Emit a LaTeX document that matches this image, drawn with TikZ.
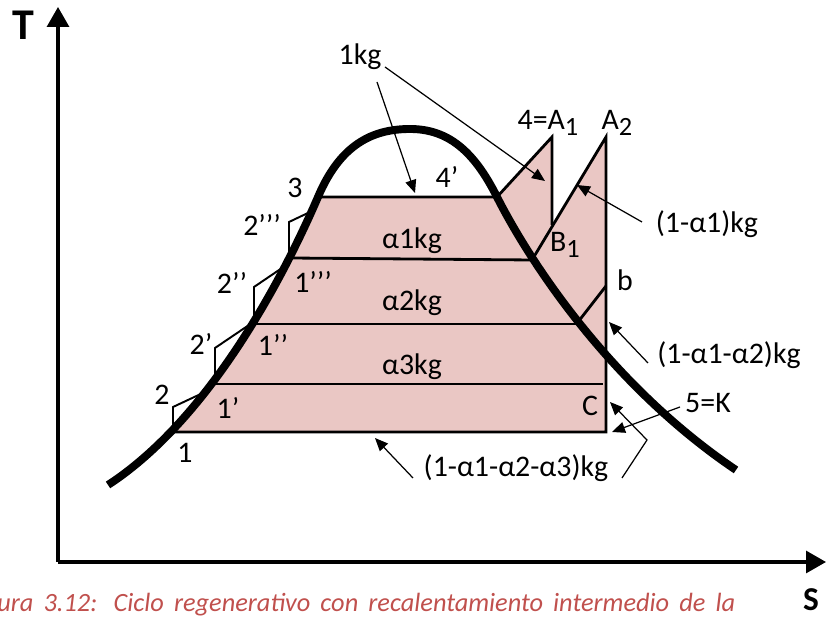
\documentclass[tikz,border=0pt]{standalone}
\usepackage{fontspec}
\setmainfont{Carlito}
\usetikzlibrary{arrows.meta}

\definecolor{cyclefill}{RGB}{234,199,196}
\definecolor{capred}{RGB}{192,80,77}
\newcommand{\lowidx}[1]{\raisebox{-0.45ex}{\fontsize{15}{15}\selectfont #1}}

\begin{document}
\begin{tikzpicture}[
  x=0.02cm, y=-0.02cm,
  lbl/.style={font=\fontsize{17}{20}\selectfont, inner sep=0pt},
  ax/.style={line width=1.8pt, -{Triangle[length=4mm,width=4.4mm]}},
  dome/.style={line width=4.5pt},
  cyc/.style={line width=1.6pt, line join=miter},
  stepline/.style={line width=1.1pt},
  arr/.style={line width=0.7pt, -{Triangle[length=2.6mm,width=2.2mm]}},
]
\useasboundingbox (0,0) rectangle (826,617);

% axes
\coordinate (o) at (58,562);
\coordinate (ttip) at (58,7);
\coordinate (stip) at (826,562);
\draw[ax] (o) -- (ttip);
\draw[ax] (o) -- (stip);
\node[font=\fontsize{25}{25}\selectfont\bfseries, inner sep=0pt] (tlab) at (23,25) {T};
\node[font=\fontsize{19}{19}\selectfont\bfseries, inner sep=0pt] (slab) at (811,600) {S};

% dome ends
\coordinate (dl) at (108,485);
\coordinate (p3) at (318,197);
\coordinate (pk) at (410,129);
\coordinate (p4s) at (497,197);
\coordinate (dr) at (736,470);

% cycle area
\begin{scope}
  \clip (0,0) rectangle (826,432);
  \fill[cyclefill] (dl) .. controls (200,425) and (273,301) .. (p3)
    -- (p4s) -- (552,137) -- (552,225) -- (606,137) -- (606,490) -- cycle;
\end{scope}

% cycle lines
\coordinate (p1) at (172,432);
\coordinate (a1) at (552,137);
\coordinate (a1b) at (552,225);
\coordinate (b1) at (532,260);
\coordinate (a2) at (606,137);
\coordinate (k) at (606,432);
\draw[cyc] (p3) -- (p4s) -- (a1) -- (a1b);
\draw[cyc] (b1) -- (a2) -- (k) -- (p1);
\draw[cyc] (290,258) -- (b1);
\draw[cyc] (253,324) -- (579,324);
\draw[cyc] (578,322) -- (606,286);
\draw[cyc] (213,384) -- (603,384);

% pump steps
\draw[stepline] (173,431) -- (173,407) -- (205,392);
\draw[stepline] (215,382) -- (215,348) -- (249,325);
\draw[stepline] (254,322) -- (254,287) -- (282,268);
\draw[stepline] (289,257) -- (289,222) -- (310,212);

% saturation dome
\draw[dome] (dl) .. controls (200,425) and (273,301) .. (p3)
  .. controls (340,145) and (372,129) .. (pk)
  .. controls (448,129) and (474,151) .. (p4s)
  .. controls (530,262) and (610,385) .. (dr);

% point labels
\node[lbl] (l1) at (185,453) {1};
\node[lbl] (l2) at (162,395) {2};
\node[lbl] (l1a) at (228,408) {1’};
\node[lbl] (l2a) at (201,344) {2’};
\node[lbl] (l1b) at (273,345) {1’’};
\node[lbl] (l2b) at (232,283) {2’’};
\node[lbl] (l1c) at (313,282) {1’’’};
\node[lbl] (l2c) at (262,225) {2’’’};
\node[lbl] (l3) at (295,188) {3};
\node[lbl] (l4a) at (447,177) {4’};
\node[lbl] (la1) at (548,123) {4=A\lowidx{1}};
\node[lbl] (la2) at (617,123) {A\lowidx{2}};
\node[lbl] (lb1) at (565,245) {B\lowidx{1}};
\node[lbl] (lb) at (625,280) {b};
\node[lbl] (lc) at (590,406) {C};
\node[lbl] (lk) at (708,403) {5=K};

% mass labels
\node[lbl] (m1) at (412,241) {α1kg};
\node[lbl] (m2) at (412,303) {α2kg};
\node[lbl] (m3) at (412,367) {α3kg};
\node[lbl] (kg) at (360,57) {1kg};
\node[lbl] (r1) at (707,224) {(1-α1)kg};
\node[lbl] (r2) at (729,355) {(1-α1-α2)kg};
\node[lbl] (r3) at (516,468) {(1-α1-α2-α3)kg};

% pointers
\coordinate (kgs) at (377,82);
\coordinate (kge) at (385,67);
\coordinate (top) at (415,193);
\coordinate (hp) at (545,181);
\coordinate (r1s) at (642,222);
\coordinate (lp) at (577,185);
\coordinate (r2s) at (648,363);
\coordinate (bp) at (609,322);
\coordinate (ks) at (680,407);
\coordinate (kp) at (612,432);
\coordinate (r3s) at (622,478);
\coordinate (r3k) at (647,440);
\coordinate (cp) at (610,402);
\coordinate (r3l) at (413,478);
\coordinate (botp) at (375,438);
\draw[arr] (kgs) -- (top);
\draw[arr] (kge) -- (hp);
\draw[arr] (r1s) -- (lp);
\draw[arr] (r2s) -- (bp);
\draw[arr] (ks) -- (kp);
\draw[arr] (r3s) -- (r3k) -- (cp);
\draw[arr] (r3l) -- (botp);

% caption
\node[anchor=west, inner sep=0pt, text=capred, font=\fontsize{15}{17}\selectfont\itshape] (cap) at (-3,605)
  {\makebox[14.76cm][s]{ura 3.12: Ciclo regenerativo con recalentamiento intermedio de la}};
\end{tikzpicture}
\end{document}
